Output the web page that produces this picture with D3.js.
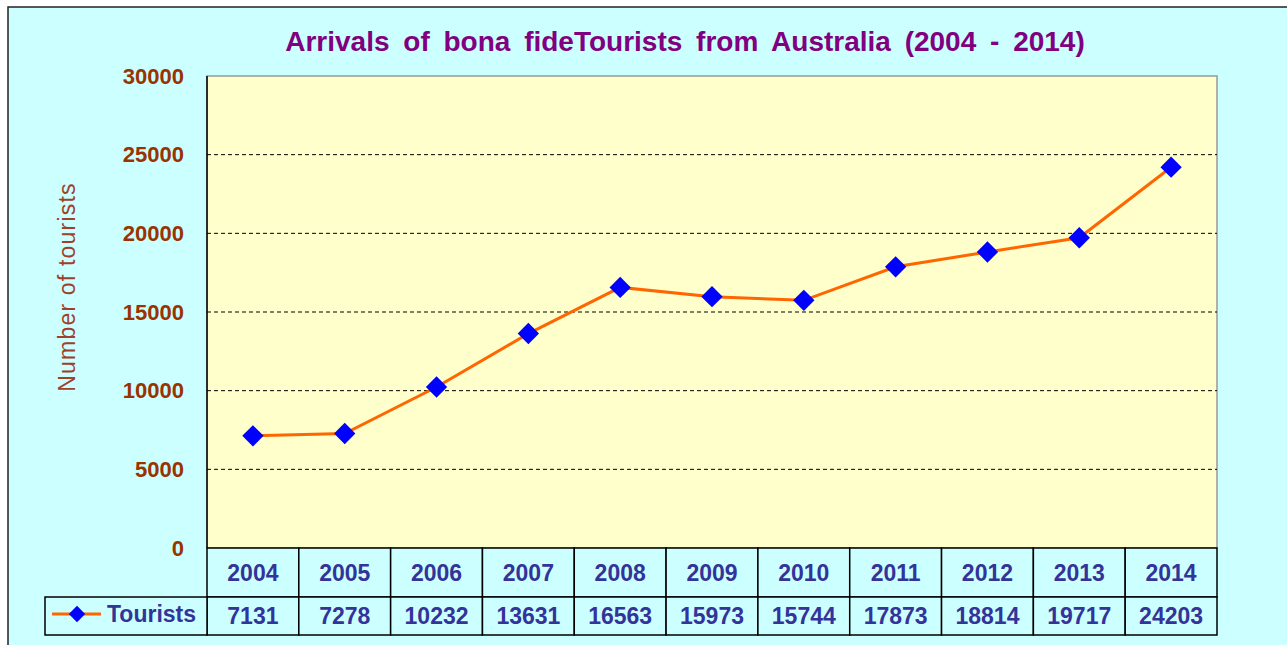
<!DOCTYPE html>
<html>
<head>
<meta charset="utf-8">
<script src="https://d3js.org/d3.v7.min.js"></script>
<style>
  body { margin: 0; background: #fff; }
  * { font-family: "Liberation Sans", Arial, sans-serif; }
  .grid line { stroke: #000; stroke-dasharray: 4,3; stroke-width: 1; }
  .ytick text { fill: #993300; font-size: 22px; font-weight: bold; }
  .cell { fill: #ccffff; stroke: #000; stroke-width: 1.5; }
  .tbl-text { fill: #333399; font-size: 23px; font-weight: bold; }
</style>
</head>
<body>
<div id="chart"></div>
<script>
var years = ["2004","2005","2006","2007","2008","2009","2010","2011","2012","2013","2014"];
var tourists = [7131, 7278, 10232, 13631, 16563, 15973, 15744, 17873, 18814, 19717, 24203];
var yTicks = [0, 5000, 10000, 15000, 20000, 25000, 30000];
var seriesName = "Tourists";
var title = "Arrivals of bona fideTourists from Australia (2004 - 2014)";
var yTitle = "Number of tourists";

var W = 1287, H = 645;
var plot = {left: 207, top: 76, right: 1217, bottom: 548};
var row1Bottom = 597, row2Bottom = 635, legendLeft = 45;

var svg = d3.select("#chart").append("svg")
    .attr("width", W).attr("height", H);

// outer frame
svg.append("rect")
    .attr("x", 8).attr("y", 7).attr("width", W).attr("height", H)
    .attr("fill", "#ccffff").attr("stroke", "#222").attr("stroke-width", 1.5);

var x = d3.scaleBand().domain(years).range([plot.left, plot.right]);
var y = d3.scaleLinear().domain([0, 30000]).range([plot.bottom, plot.top]);

// plot area
svg.append("rect")
    .attr("x", plot.left).attr("y", plot.top)
    .attr("width", plot.right - plot.left).attr("height", plot.bottom - plot.top)
    .attr("fill", "#ffffcc").attr("stroke", "#999").attr("stroke-width", 1.5);
svg.append("line")
    .attr("x1", plot.left).attr("x2", plot.left)
    .attr("y1", plot.top).attr("y2", plot.bottom)
    .attr("stroke", "#000").attr("stroke-width", 1.5);

// gridlines
svg.append("g").attr("class", "grid")
    .selectAll("line")
    .data(yTicks.filter(function(d) { return d > 0 && d < 30000; }))
    .enter().append("line")
    .attr("x1", plot.left).attr("x2", plot.right)
    .attr("y1", function(d) { return y(d); })
    .attr("y2", function(d) { return y(d); });

// y tick labels
svg.append("g").attr("class", "ytick")
    .selectAll("text")
    .data(yTicks)
    .enter().append("text")
    .attr("x", 184)
    .attr("y", function(d) { return y(d); })
    .attr("dy", "0.35em")
    .attr("text-anchor", "end")
    .text(function(d) { return d; });

// y title
svg.append("text")
    .attr("transform", "translate(75,287) rotate(-90)")
    .attr("text-anchor", "middle")
    .attr("fill", "#a0402b")
    .style("font-size", "23px")
    .style("letter-spacing", "1.2px")
    .text(yTitle);

// title
svg.append("text")
    .attr("x", 685).attr("y", 51)
    .attr("text-anchor", "middle")
    .attr("fill", "#800080")
    .style("font-size", "28px").style("font-weight", "bold")
    .style("word-spacing", "6px")
    .text(title);

// line + markers
var line = d3.line()
    .x(function(d, i) { return x(years[i]) + x.bandwidth() / 2; })
    .y(function(d) { return y(d); });
svg.append("path")
    .datum(tourists)
    .attr("d", line)
    .attr("fill", "none").attr("stroke", "#ff6600").attr("stroke-width", 3);

var diamond = d3.symbol().type(d3.symbolDiamond2).size(290);
svg.selectAll(".marker")
    .data(tourists)
    .enter().append("path")
    .attr("class", "marker")
    .attr("d", diamond)
    .attr("fill", "#0000ff")
    .attr("transform", function(d, i) {
        return "translate(" + (x(years[i]) + x.bandwidth() / 2) + "," + y(d) + ")";
    });

// data table
var tbl = svg.append("g");
tbl.selectAll(".yr")
    .data(years).enter().append("rect")
    .attr("class", "cell")
    .attr("x", function(d) { return x(d); })
    .attr("y", plot.bottom)
    .attr("width", x.bandwidth()).attr("height", row1Bottom - plot.bottom);
tbl.selectAll(".val")
    .data(years).enter().append("rect")
    .attr("class", "cell")
    .attr("x", function(d) { return x(d); })
    .attr("y", row1Bottom)
    .attr("width", x.bandwidth()).attr("height", row2Bottom - row1Bottom);
tbl.append("rect").attr("class", "cell")
    .attr("x", legendLeft).attr("y", row1Bottom)
    .attr("width", plot.left - legendLeft).attr("height", row2Bottom - row1Bottom);

tbl.selectAll(".yrtext")
    .data(years).enter().append("text")
    .attr("class", "tbl-text")
    .attr("x", function(d) { return x(d) + x.bandwidth() / 2; })
    .attr("y", (plot.bottom + row1Bottom) / 2)
    .attr("dy", "0.36em")
    .attr("text-anchor", "middle")
    .text(function(d) { return d; });
tbl.selectAll(".valtext")
    .data(tourists).enter().append("text")
    .attr("class", "tbl-text")
    .attr("x", function(d, i) { return x(years[i]) + x.bandwidth() / 2; })
    .attr("y", (row1Bottom + row2Bottom) / 2)
    .attr("dy", "0.36em")
    .attr("text-anchor", "middle")
    .text(function(d) { return d; });

// legend key
var ly = (row1Bottom + row2Bottom) / 2 - 2;
tbl.append("line")
    .attr("x1", 52).attr("x2", 101).attr("y1", ly).attr("y2", ly)
    .attr("stroke", "#ff6600").attr("stroke-width", 3);
tbl.append("path")
    .attr("d", d3.symbol().type(d3.symbolDiamond2).size(170))
    .attr("fill", "#0000ff")
    .attr("transform", "translate(77," + ly + ")");
tbl.append("text")
    .attr("class", "tbl-text")
    .attr("x", 107).attr("y", ly)
    .attr("dy", "0.36em")
    .text(seriesName);
</script>
</body>
</html>
